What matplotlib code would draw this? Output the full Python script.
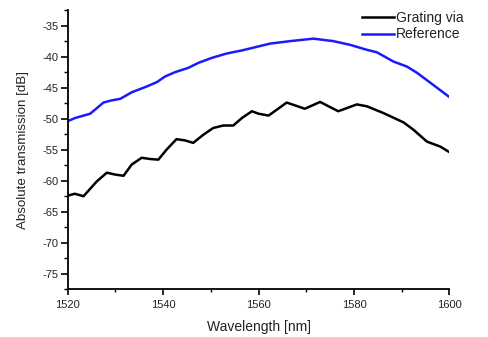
import matplotlib
matplotlib.use("Agg")
import matplotlib.pyplot as plt
from matplotlib.ticker import MultipleLocator

plt.rcParams['font.family'] = ['Liberation Sans', 'DejaVu Sans']
plt.rcParams['axes.unicode_minus'] = False

# values
wl_ref = [1520, 1521.5, 1524.7, 1527.5, 1528.9, 1531, 1533.4, 1536.6, 1538.7,
          1540.4, 1542.5, 1545.3, 1547.4, 1550.2, 1553.3, 1556.5, 1559.2,
          1562.4, 1566.6, 1571.5, 1575.7, 1579.2, 1582.7, 1584.8, 1588.3,
          1591.1, 1593.2, 1596.0, 1599.8]
ref = [-50.4, -49.9, -49.2, -47.4, -47.1, -46.8, -45.75, -44.8, -44.1,
       -43.2, -42.5, -41.8, -41.0, -40.2, -39.5, -39.0, -38.5,
       -37.9, -37.5, -37.1, -37.5, -38.1, -38.9, -39.3, -40.8,
       -41.6, -42.6, -44.2, -46.4]

wl_grat = [1520, 1521.5, 1523.3, 1526.1, 1528.2, 1529.9, 1531.7, 1533.4,
           1535.5, 1537.3, 1539.0, 1540.7, 1542.8, 1544.6, 1546.3, 1548.4,
           1550.5, 1552.6, 1554.7, 1556.5, 1558.6, 1560.0, 1562.1, 1565.9,
           1569.7, 1572.9, 1576.7, 1580.6, 1582.7, 1586.2, 1590.4, 1592.5,
           1595.3, 1598.1, 1599.8]
grating = [-62.4, -62.1, -62.5, -60.1, -58.7, -59.0, -59.2, -57.4,
           -56.3, -56.5, -56.6, -55.0, -53.3, -53.5, -53.9, -52.6,
           -51.5, -51.1, -51.1, -49.9, -48.8, -49.2, -49.5, -47.4,
           -48.4, -47.3, -48.8, -47.7, -48.0, -49.1, -50.6, -51.8,
           -53.7, -54.5, -55.3]

fig = plt.figure(figsize=(4.89, 3.37), dpi=100)
ax = fig.add_axes([0.1385, 0.1415, 0.7805, 0.8285])

ax.plot(wl_grat, grating, color='black', lw=1.8, label='Grating via')
ax.plot(wl_ref, ref, color='#1a1aff', lw=1.8, label='Reference')

ax.set_xlim(1520, 1600)
ax.set_ylim(-77.5, -32.5)
ax.xaxis.set_major_locator(MultipleLocator(20))
ax.xaxis.set_minor_locator(MultipleLocator(10))
ax.yaxis.set_major_locator(MultipleLocator(5))
ax.yaxis.set_minor_locator(MultipleLocator(2.5))

for s in ['top', 'right']:
    ax.spines[s].set_visible(False)
for s in ['left', 'bottom']:
    ax.spines[s].set_linewidth(1.3)

ax.tick_params(which='major', direction='out', length=5, width=1.2,
               labelsize=8, pad=1.5, labelcolor='#222222')
ax.tick_params(which='minor', direction='out', length=3, width=1.0)
ax.tick_params(axis='x', which='major', length=4, pad=4)
ax.tick_params(axis='x', which='minor', length=2)

ax.set_xlabel('Wavelength [nm]', fontsize=10, color='#222222', labelpad=7)
ax.set_ylabel('Absolute transmission [dB]', fontsize=9.6, color='#222222', labelpad=10)

leg = ax.legend(loc='upper left', bbox_to_anchor=(0.77, 0.998), frameon=False,
                fontsize=10, handlelength=2.3, handletextpad=0.15, labelspacing=0.2,
                borderpad=0, borderaxespad=0)
for t in leg.get_texts():
    t.set_color('#222222')

fig.savefig('out.png', dpi=100)
